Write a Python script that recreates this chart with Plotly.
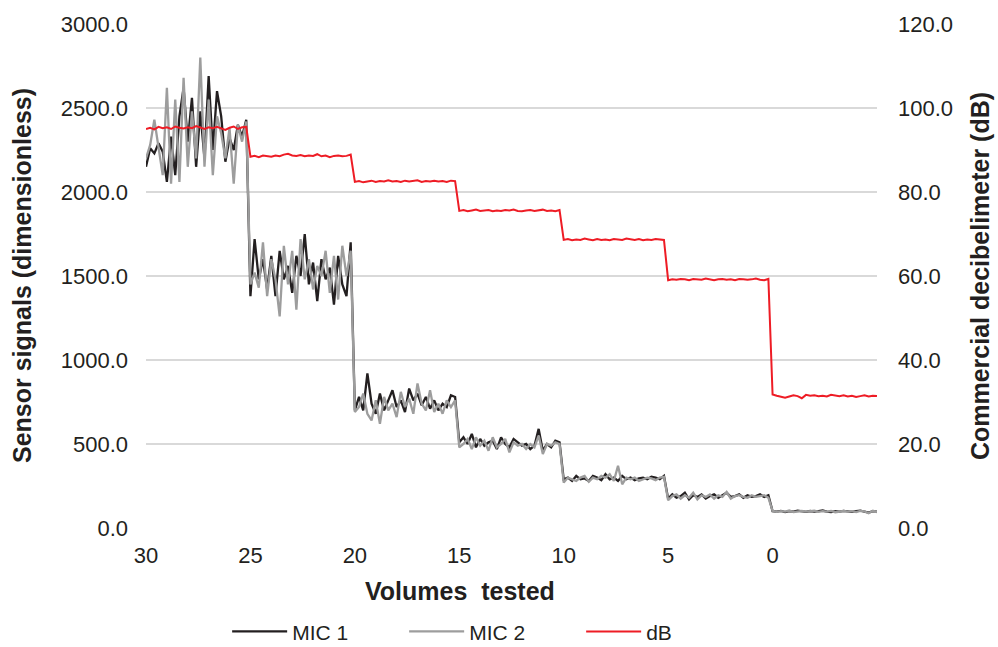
import numpy as np
import plotly.graph_objects as go

# x positions (volume setting), sampled every 0.2 from 30 down to -5
volumes = np.round(np.linspace(30, -5, 176), 2)
x_ticks = [30, 25, 20, 15, 10, 5, 0]
y_left_ticks = [0, 500, 1000, 1500, 2000, 2500, 3000]
y_right_ticks = [0, 20, 40, 60, 80, 100, 120]

mic1 = [
    2150, 2260, 2230, 2290, 2240, 2060, 2330, 2100, 2450, 2620, 2300, 2560, 2150, 2480, 2200, 2690, 2250, 2600, 2450, 2180, 2320, 2250, 2400, 2330, 2430,
    1380, 1720, 1480, 1600, 1420, 1620, 1380, 1650, 1480, 1560, 1400, 1620, 1500, 1750, 1450, 1580, 1350, 1600, 1480, 1550, 1330, 1620, 1450, 1380, 1700,
    700, 780, 700, 920, 740, 680, 800, 700, 760, 820, 720, 760, 690, 830, 760, 800, 730, 780, 710, 760, 700, 740, 720, 790, 780,
    510, 540, 500, 560, 480, 530, 490, 510, 520, 470, 540, 500, 480, 530, 510, 490, 500, 470, 490, 590, 460, 500, 480, 520, 510,
    290, 300, 280, 310, 290, 295, 280, 310, 300, 285, 320, 290, 300, 280, 310, 290, 300, 285, 295, 300, 290, 305, 300, 290, 310,
    175, 200, 180, 190, 210, 170, 195, 185, 200, 175, 190, 200, 180, 195, 210, 185, 190, 200, 180, 195, 185, 190, 200, 185, 195,
    100, 98, 102, 95, 100, 97, 103, 99, 96, 101, 98, 100, 104, 97, 95, 100, 98, 102, 99, 96, 100, 103, 98, 92, 100, 97,
]

mic2 = [
    2200, 2280, 2430, 2250, 2100, 2620, 2050, 2550, 2060, 2680, 2150, 2480, 2200, 2800, 2150, 2550, 2100, 2450, 2350, 2200, 2380, 2050, 2400, 2300, 2420,
    1450, 1520, 1430, 1700, 1380, 1600, 1480, 1260, 1680, 1450, 1650, 1300, 1720, 1480, 1600, 1420, 1560, 1500, 1650, 1400, 1620, 1360, 1680, 1500, 1650,
    690, 720, 800, 680, 640, 760, 620, 780, 700, 740, 660, 810, 720, 770, 680, 860, 740, 700, 820, 690, 740, 680, 760, 720, 760,
    480, 500, 530, 470, 540, 490, 520, 460, 540, 480, 500, 530, 450, 510, 490, 500, 470, 500, 480, 550, 440, 500, 490, 510, 500,
    270, 300, 290, 280, 300, 310, 275, 300, 290, 310, 300, 320, 280, 370, 260, 300, 290, 300, 280, 290, 300, 295, 285, 300, 305,
    165, 190, 200, 175, 195, 180, 210, 170, 195, 185, 200, 175, 195, 185, 215, 175, 190, 195, 185, 180, 195, 185, 190, 195, 180,
    102, 96, 100, 98, 104, 95, 100, 101, 97, 99, 103, 96, 100, 98, 102, 94, 99, 101, 97, 100, 95, 102, 99, 88, 102, 95,
]

db = [
    95.0, 95.3, 94.9, 95.5, 95.2, 95.4, 95.0, 95.6, 95.3, 95.1, 95.4, 95.2, 95.7, 95.3, 95.0, 95.4, 95.2, 95.5, 95.1, 94.8, 95.3, 95.6, 95.0, 95.4, 95.5,
    88.4, 88.6, 88.3, 88.7, 88.5, 88.4, 88.7, 88.5, 88.9, 89.1, 88.7, 88.6, 88.8, 88.5, 88.7, 88.6, 89.0, 88.5, 88.7, 88.3, 88.6, 88.7, 88.5, 88.6, 88.9,
    82.4, 82.6, 82.3, 82.5, 82.7, 82.4, 82.6, 82.5, 82.8, 82.5, 82.6, 82.4, 82.7, 82.5, 82.6, 82.8, 82.4, 82.6, 82.5, 82.7, 82.5, 82.6, 82.4, 82.7, 82.6,
    75.5, 75.7, 75.4, 75.6, 75.8, 75.5, 75.6, 75.7, 75.4, 75.6, 75.5, 75.7, 75.6, 75.8, 75.5, 75.4, 75.6, 75.7, 75.5, 75.6, 75.8, 75.5, 75.6, 75.4, 75.7,
    68.6, 68.8, 68.5, 68.7, 68.6, 68.9, 68.7, 68.5, 68.8, 68.6, 68.7, 68.5, 68.8, 68.7, 68.6, 68.9, 68.7, 68.6, 68.8, 68.5, 68.7, 68.6, 68.8, 68.7, 68.6,
    59.0, 59.2, 59.1, 59.3, 59.2, 59.0, 59.3, 59.2, 59.1, 59.4, 59.2, 59.0, 59.2, 59.3, 59.1, 59.2, 59.0, 59.3, 59.2, 59.1, 59.2, 59.4, 59.1, 59.0, 59.3,
    31.8, 31.5, 31.2, 31.0, 31.3, 31.6, 31.4, 30.9, 31.7, 31.5, 31.6, 31.4, 31.5, 31.3, 31.7, 31.5, 31.4, 31.6, 31.3, 31.5, 31.2, 31.4, 31.6, 31.3, 31.5, 31.4,
]

FONT = "Liberation Sans, Arial, Helvetica, sans-serif"
TXT = "#231f20"

fig = go.Figure()
fig.add_trace(go.Scatter(x=volumes, y=mic1, name="MIC 1", mode="lines",
                         line=dict(color="#231f20", width=2.3)))
fig.add_trace(go.Scatter(x=volumes, y=mic2, name="MIC 2", mode="lines",
                         line=dict(color="#9d9d9d", width=2.3)))
fig.add_trace(go.Scatter(x=volumes, y=db, name="dB", mode="lines", yaxis="y2",
                         line=dict(color="#ee1c25", width=2)))

fig.update_layout(
    width=998, height=647,
    margin=dict(l=146, r=121, t=24, b=119, autoexpand=False),
    paper_bgcolor="white", plot_bgcolor="white",
    font=dict(family=FONT, size=22, color=TXT),
    xaxis=dict(range=[30, -5], tickvals=x_ticks, ticktext=[str(v) for v in x_ticks],
               showgrid=False, zeroline=False, showline=False, ticks="",
               ticklabelstandoff=12, tickfont=dict(size=22)),
    yaxis=dict(range=[0, 3000], tickvals=y_left_ticks,
               ticktext=[f"{v:.1f}" for v in y_left_ticks],
               showgrid=True, gridcolor="#d9d9d9", gridwidth=2,
               zeroline=False, showline=False, ticks="",
               ticklabelstandoff=17, tickfont=dict(size=22)),
    yaxis2=dict(range=[0, 120], tickvals=y_right_ticks,
                ticktext=[f"{v:.1f}" for v in y_right_ticks],
                overlaying="y", side="right", showgrid=False,
                zeroline=False, showline=False, ticks="",
                ticklabelstandoff=20, tickfont=dict(size=22)),
    legend=dict(orientation="h", x=0.111, y=-0.206, xanchor="left", yanchor="middle",
                itemwidth=55, font=dict(size=21), entrywidth=107,
                bgcolor="rgba(0,0,0,0)"),
    annotations=[
        dict(text="<b>Sensor signals (dimensionless)</b>", xref="paper", yref="paper",
             x=-0.1696, y=0.5, textangle=-90, showarrow=False,
             font=dict(size=25, family=FONT, color=TXT), xanchor="center", yanchor="middle"),
        dict(text="<b>Commercial decibelimeter (dB)</b>", xref="paper", yref="paper",
             x=1.141, y=0.5, textangle=-90, showarrow=False,
             font=dict(size=25, family=FONT, color=TXT), xanchor="center", yanchor="middle"),
        dict(text="<b>Volumes\u00a0 tested</b>", xref="paper", yref="paper",
             x=0.43, y=-0.125, showarrow=False,
             font=dict(size=25, family=FONT, color=TXT), xanchor="center", yanchor="middle"),
    ],
)

fig.write_html("out.html", config={"displayModeBar": False},
               post_script="document.body.style.margin='0';document.body.style.padding='0';")
